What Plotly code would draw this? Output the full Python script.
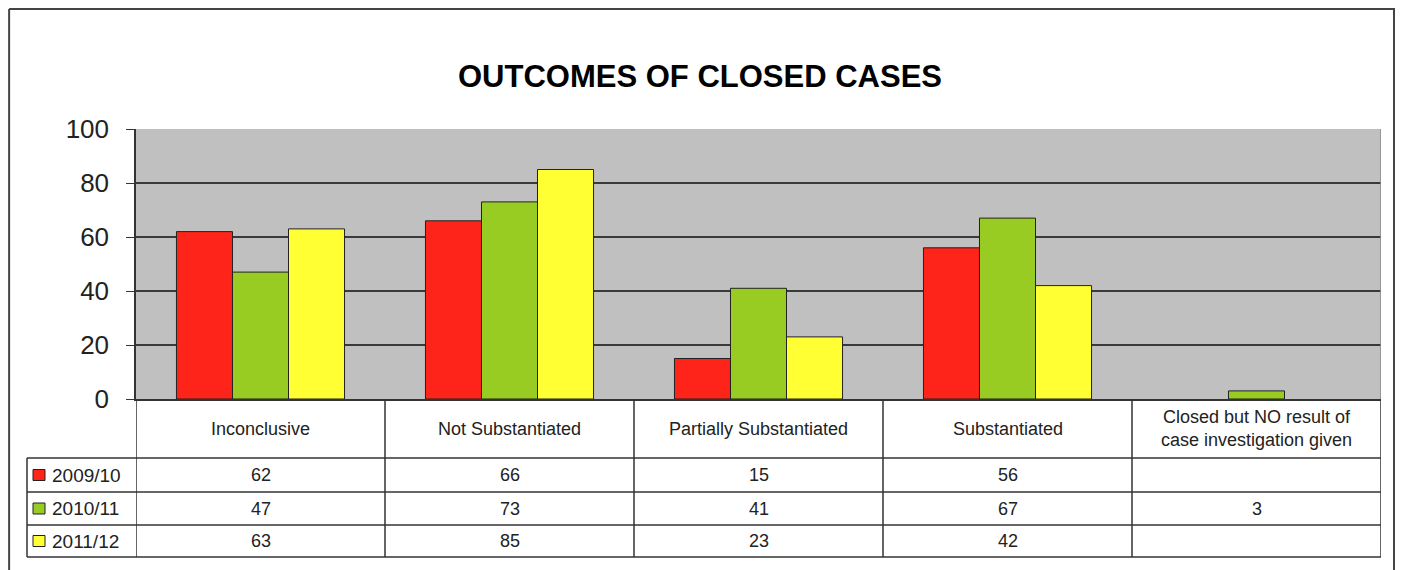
import plotly.graph_objects as go

categories = ["Inconclusive", "Not Substantiated", "Partially Substantiated", "Substantiated",
              "Closed but NO result of<br>case investigation given"]
series_names = ["2009/10", "2010/11", "2011/12"]
values_2009 = [62, 66, 15, 56, None]
values_2010 = [47, 73, 41, 67, 3]
values_2011 = [63, 85, 23, 42, None]
y_ticks = [0, 20, 40, 60, 80, 100]
colors = ["#FF2419", "#99CC22", "#FFFF33"]
title_text = "OUTCOMES OF CLOSED CASES"

all_values = [values_2009, values_2010, values_2011]
W, H = 1403, 570
OX, OY = 8, 8  # page body margin


def px(p):
    return (p - OX) / W


def py(p):
    return 1 - (p - OY) / H


FONT = "Liberation Sans, Arial, sans-serif"
LINE = "#333333"
TXT = "#222222"
FRAME = "#444444"

fig = go.Figure()
xs = list(range(len(categories)))
for name, vals, col in zip(series_names, all_values, colors):
    fig.add_trace(go.Bar(x=xs, y=vals, name=name, marker=dict(color=col, line=dict(color="#222222", width=1))))

shapes = []
annotations = []

# outer frame (drawn as separate lines)
shapes.append(dict(type="line", xref="paper", yref="paper", x0=0.0008, x1=px(1395), y0=py(9), y1=py(9),
                   line=dict(color=FRAME, width=2)))
shapes.append(dict(type="line", xref="paper", yref="paper", x0=0.0008, x1=0.0008, y0=py(9), y1=0,
                   line=dict(color=FRAME, width=2)))
shapes.append(dict(type="line", xref="paper", yref="paper", x0=px(1394), x1=px(1394), y0=py(9), y1=0,
                   line=dict(color=FRAME, width=2)))

# right edge of plot area
shapes.append(dict(type="line", xref="x", yref="y", x0=len(categories) - 0.5, x1=len(categories) - 0.5,
                   y0=0, y1=100, line=dict(color="#8a8a8a", width=1.5)))

# table rows (pixel y)
row_edges = [399, 458, 492, 525, 557]
row_centers = [(row_edges[i] + row_edges[i + 1]) / 2 for i in range(4)]
left_legend = 27
n = len(categories)

for yy in row_edges[1:]:
    shapes.append(dict(type="line", xref="paper", yref="paper", x0=px(left_legend), x1=px(1381),
                       y0=py(yy), y1=py(yy), line=dict(color=LINE, width=1.5)))
for j in range(n + 1):
    shapes.append(dict(type="line", xref="x", yref="paper", x0=j - 0.5, x1=j - 0.5,
                       y0=py(row_edges[0]), y1=py(row_edges[-1]), line=dict(color=LINE, width=1.5)))
shapes.append(dict(type="line", xref="paper", yref="paper", x0=px(left_legend), x1=px(left_legend),
                   y0=py(row_edges[1]), y1=py(row_edges[-1]), line=dict(color=LINE, width=1.5)))

for j, c in enumerate(categories):
    annotations.append(dict(x=j, y=py(row_centers[0]), xref="x", yref="paper", text=c, showarrow=False,
                            font=dict(family=FONT, size=18, color=TXT), xanchor="center", yanchor="middle"))
for i, (name, vals, col) in enumerate(zip(series_names, all_values, colors)):
    yc = row_centers[i + 1]
    shapes.append(dict(type="rect", xref="paper", yref="paper", x0=px(33), x1=px(45), y0=py(yc + 5.5),
                       y1=py(yc - 5.5), fillcolor=col, line=dict(color="#222222", width=1)))
    annotations.append(dict(x=px(50), y=py(yc), xref="paper", yref="paper", text=name, showarrow=False,
                            font=dict(family=FONT, size=19, color=TXT), xanchor="left", yanchor="middle"))
    for j, v in enumerate(vals):
        if v is None:
            continue
        annotations.append(dict(x=j, y=py(yc), xref="x", yref="paper", text=str(v), showarrow=False,
                                font=dict(family=FONT, size=18, color=TXT), xanchor="center",
                                yanchor="middle"))

annotations.append(dict(x=px(700), y=py(76), xref="paper", yref="paper", text="<b>" + title_text + "</b>",
                        showarrow=False, font=dict(family=FONT, size=31, color="#000000"),
                        xanchor="center", yanchor="middle"))

fig.update_layout(
    width=W, height=H,
    margin=dict(l=0, r=0, t=0, b=0, autoexpand=False),
    paper_bgcolor="white",
    plot_bgcolor="#C0C0C0",
    barmode="group",
    bargap=0.325,
    bargroupgap=0,
    showlegend=False,
    shapes=shapes,
    annotations=annotations,
    xaxis=dict(domain=[px(136), px(1381)], range=[-0.5, n - 0.5], showticklabels=False, showgrid=False,
               showline=True, linecolor=LINE, linewidth=1.5, zeroline=False, ticks="", fixedrange=True,
               automargin=False),
    yaxis=dict(domain=[py(399), py(129)], range=[0, 100], tickvals=y_ticks, showgrid=True,
               gridcolor="#3a3a3a", gridwidth=1.5, showline=True, linecolor=LINE, linewidth=1.5,
               ticks="outside", ticklen=8, tickcolor=LINE, zeroline=False, automargin=False,
               ticklabelstandoff=12,
               tickfont=dict(family=FONT, size=26, color=TXT)),
)

fig.write_html("out.html")
